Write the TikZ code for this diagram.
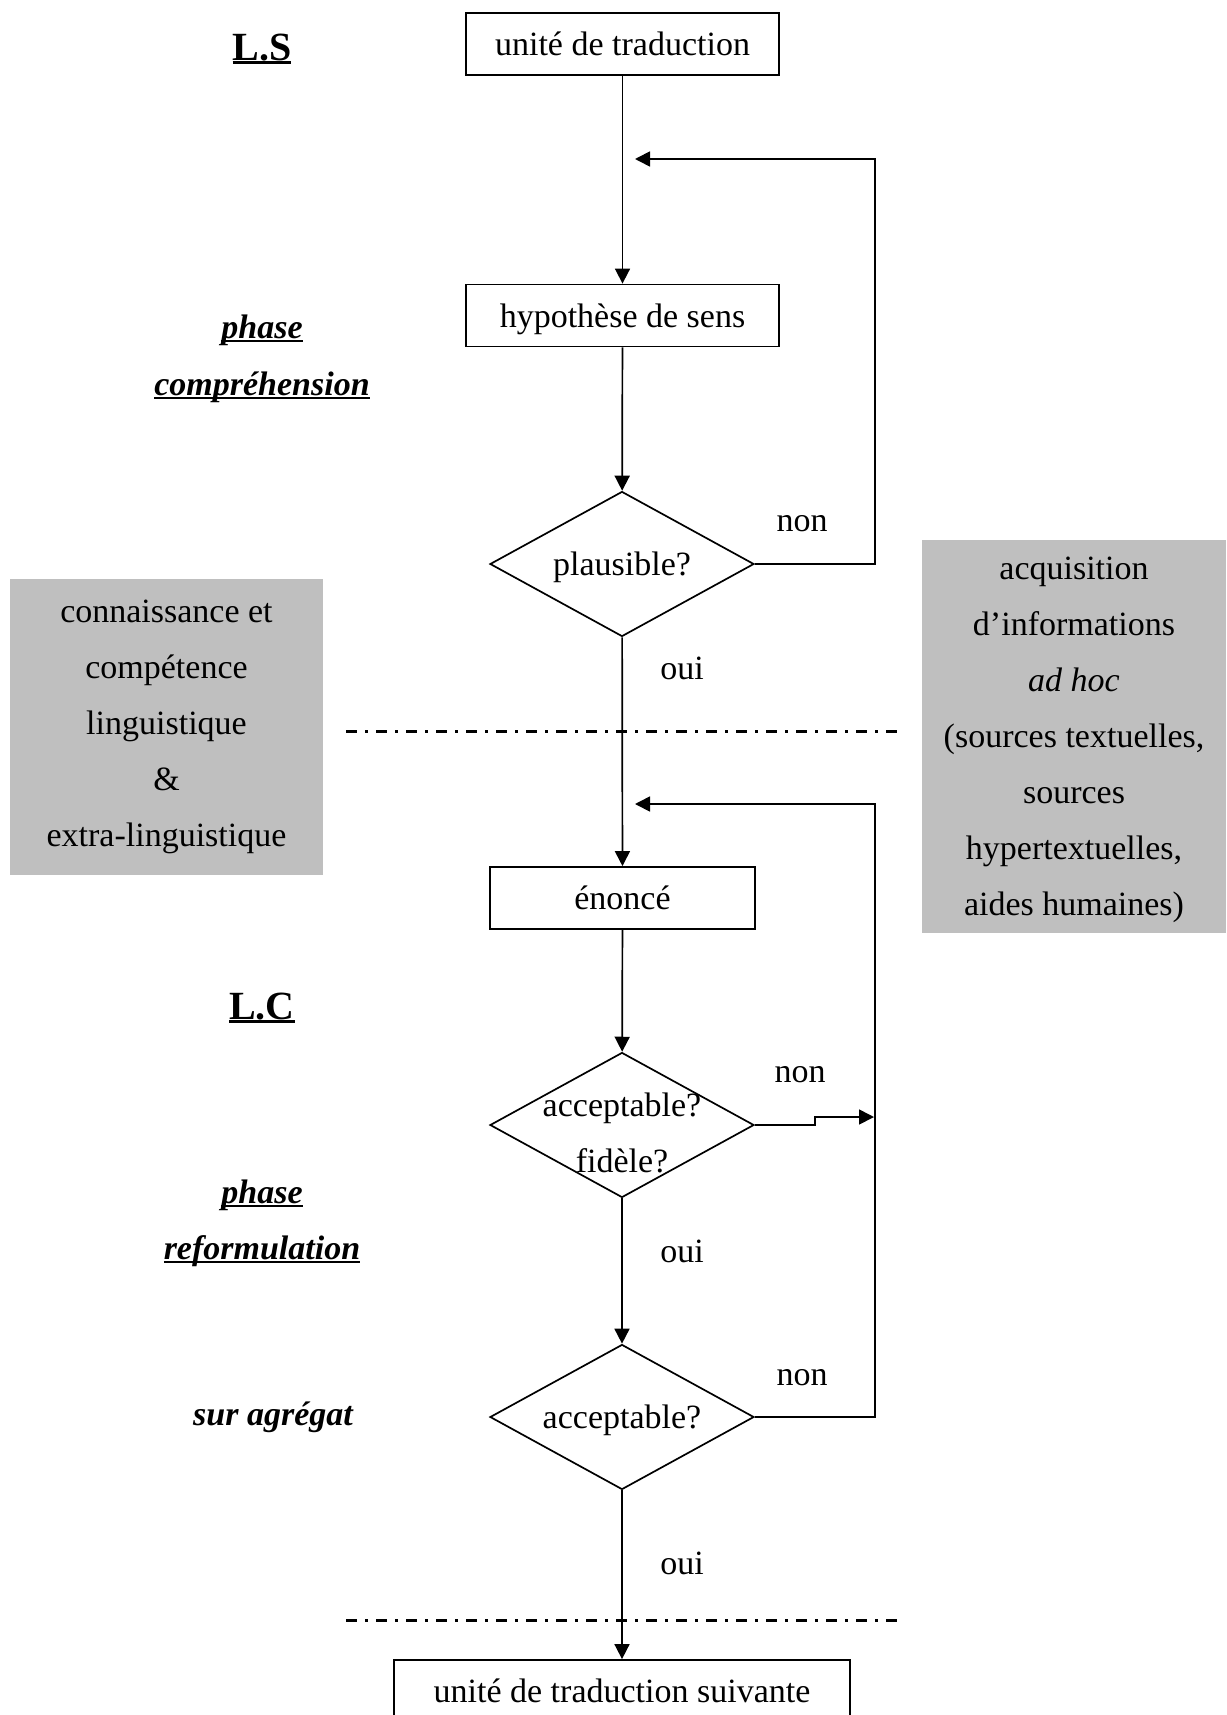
\documentclass[tikz,border=0pt]{standalone}
\usepackage{fontspec}
\setmainfont{Liberation Serif}
\usetikzlibrary{shapes.geometric,arrows.meta}
\definecolor{boxgray}{HTML}{BFBFBF}
\newcommand\ulword[2][0.07em]{\setbox0\hbox{#2}\rlap{\rule[-0.11em]{\wd0}{#1}}\box0}
\tikzset{
  base/.style={font=\fontsize{34}{56}\selectfont, inner sep=0pt},
  fixedtext/.style={text height=27pt, text depth=4pt},
  procbox/.style={base, fixedtext, draw, line width=1.8pt, rectangle, minimum height=62pt},
  decision/.style={draw, line width=1.7pt, diamond, minimum width=264pt, minimum height=145pt, inner sep=0pt},
  graybox/.style={base, fill=boxgray, align=center},
  conn/.style={line width=1.7pt, -{Triangle[length=15pt,width=15pt]}},
  sepline/.style={line width=3pt, dash pattern=on 11pt off 8pt on 3pt off 8pt},
  sidelbl/.style={base, font=\fontsize{34}{56}\selectfont\bfseries\itshape},
  biglbl/.style={base, font=\fontsize{40}{48}\selectfont\bfseries},
}
\begin{document}
\begin{tikzpicture}[x=1pt,y=-1pt]
\useasboundingbox (0,0) rectangle (1226,1715);
\clip (0,0) rectangle (1226,1715);

% gray side boxes
\node[graybox, minimum width=313pt, minimum height=296pt] (know) at (166.5,727)
  {connaissance et\\compétence\\linguistique\\\&\\extra-linguistique};
\node[graybox, minimum width=304pt, minimum height=393pt, text depth=0pt] (acq) at (1074,736.5)
  {\rule{0pt}{12pt}acquisition\\d’informations\\\textit{ad hoc}\\(sources textuelles,\\sources\\hypertextuelles,\\aides humaines)};

% process nodes
\node[procbox, minimum width=313pt] (ut) at (622.5,44) {unité de traduction};
\node[procbox, minimum width=313pt] (hyp) at (622.5,315.5) {hypothèse de sens};
\node[decision, label={[base, fixedtext]center:plausible?}] (d1) at (622,564) {};
\node[procbox, minimum width=265pt] (en) at (622.5,898) {énoncé};
\node[decision, label={[base, align=center, yshift=-8pt]center:acceptable?\\fidèle?}] (d2) at (622,1125) {};
\node[decision, label={[base, fixedtext]center:acceptable?}] (d3) at (622,1417) {};
\node[procbox, minimum width=456pt] (uts) at (622,1691) {unité de traduction suivante};

% side labels
\node[biglbl] (ls) at (262,49) {\ulword[0.09em]{L.S}};
\node[sidelbl] (ph1) at (262,330) {\ulword{phase}};
\node[sidelbl] (comp) at (262,387) {\ulword{compréhension}};
\node[biglbl] (lc) at (262,1008) {\ulword[0.09em]{L.C}};
\node[sidelbl] (ph2) at (262,1195) {\ulword{phase}};
\node[sidelbl] (ref) at (262,1251) {\ulword{reformulation}};
\node[sidelbl] (sur) at (273,1417) {sur agrégat};

% yes/no labels
\node[base] (non1) at (802,524) {non};
\node[base] (oui1) at (682,668) {oui};
\node[base] (non2) at (800,1075) {non};
\node[base] (oui2) at (682,1251) {oui};
\node[base] (non3) at (802,1378) {non};
\node[base] (oui3) at (682,1563) {oui};

% separator lines
\coordinate (s1a) at (346,731);
\coordinate (s1b) at (897,731);
\coordinate (s2a) at (346,1620);
\coordinate (s2b) at (897,1620);
\draw[sepline] (s1a) -- (s1b);
\draw[sepline] (s2a) -- (s2b);

% loop-back targets
\coordinate (r1) at (635,159);
\coordinate (r2) at (635,804);
\coordinate (r2in) at (874,1117);

% main flow
\draw[conn] (ut) -- (hyp);
\draw[conn] (hyp) -- (d1);
\draw[conn] (d1) -- (en);
\draw[conn] (en) -- (d2);
\draw[conn] (d2) -- (d3);
\draw[conn] (d3) -- (uts);

% loops
\draw[conn] (d1.east) -- (875,564) -- (875,159) -- (r1);
\draw[conn] (d3.east) -- (875,1417) -- (875,804) -- (r2);
\draw[conn] (d2.east) -- (815,1125) -- (815,1117) -- (r2in);
\end{tikzpicture}
\end{document}
